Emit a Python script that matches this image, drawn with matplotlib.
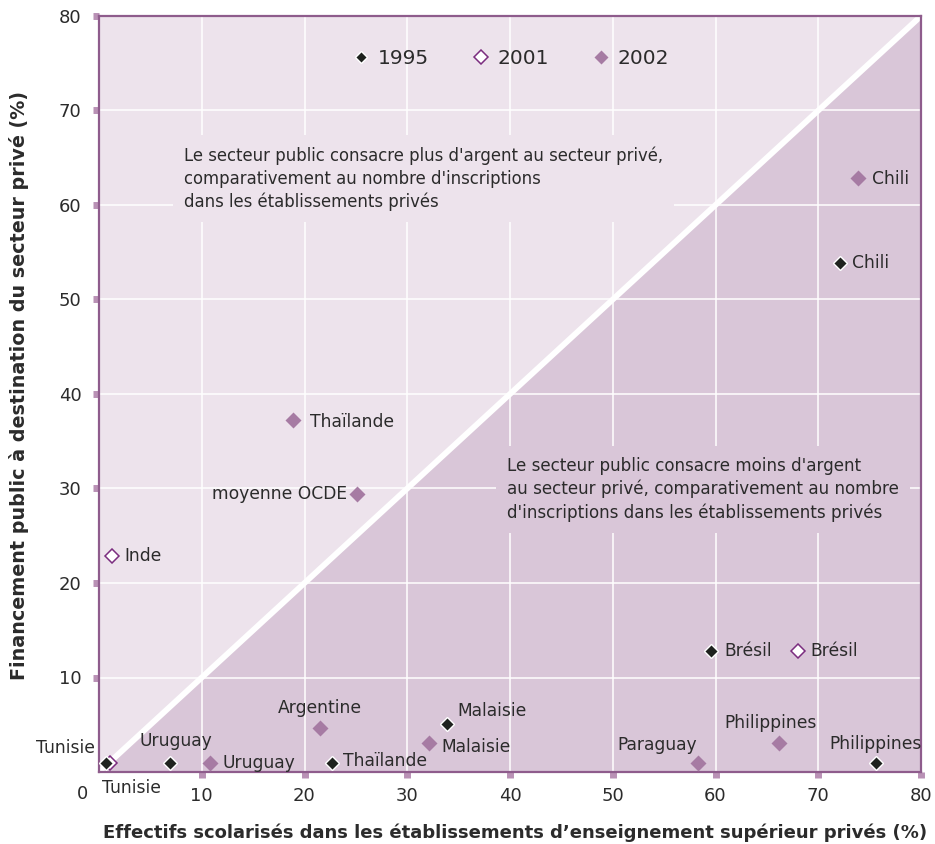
import matplotlib
matplotlib.use("Agg")
import matplotlib.pyplot as plt

plt.rcParams['font.family'] = ['DejaVu Sans']

# ---------------- data ----------------
c1995 = ["Tunisie", "Uruguay", "Thaïlande", "Malaisie", "Brésil", "Chili", "Philippines"]
x1995 = [0.7, 6.9, 22.7, 33.9, 59.6, 72.1, 75.6]
y1995 = [0.95, 0.95, 0.95, 5.1, 12.8, 53.9, 0.95]

c2001 = ["Tunisie", "Inde", "Brésil"]
x2001 = [1.1, 1.3, 68.0]
y2001 = [0.95, 22.9, 12.8]

c2002 = ["Chili", "Thaïlande", "moyenne OCDE", "Argentine", "Uruguay", "Malaisie", "Paraguay", "Philippines"]
x2002 = [73.9, 18.9, 25.1, 21.5, 10.8, 32.1, 58.3, 66.2]
y2002 = [62.9, 37.2, 29.4, 4.7, 0.95, 3.1, 0.95, 3.1]

ticks = [10, 20, 30, 40, 50, 60, 70, 80]
series_names = ["1995", "2001", "2002"]

xlabel = "Effectifs scolarisés dans les établissements d’enseignement supérieur privés (%)"
ylabel = "Financement public à destination du secteur privé (%)"
note_up = ("Le secteur public consacre plus d'argent au secteur privé,\n"
           "comparativement au nombre d'inscriptions\n"
           "dans les établissements privés")
note_down = ("Le secteur public consacre moins d'argent\n"
             "au secteur privé, comparativement au nombre\n"
             "d'inscriptions dans les établissements privés")

# label placement (offset in points, horizontal alignment)
lab1995 = {"Tunisie": (-8, 11, "right"), "Uruguay": (4, 16, "center"),
           "Thaïlande": (8, 1.5, "left"), "Malaisie": (7, 9, "left"),
           "Brésil": (9, 0, "left"), "Chili": (9, 0, "left"),
           "Philippines": (0, 14, "center")}
lab2001 = {"Tunisie": (-6, -18, "left"), "Inde": (9, 0, "left"), "Brésil": (9, 0, "left")}
lab2002 = {"Chili": (10, -1, "left"), "Thaïlande": (12, -1, "left"),
           "moyenne OCDE": (-7, 0, "right"), "Argentine": (0, 14, "center"),
           "Uruguay": (9, 0, "left"), "Malaisie": (9, -3, "left"),
           "Paraguay": (-1, 13, "right"), "Philippines": (-6, 14, "center")}

# ---------------- style ----------------
LIGHT = "#ede3ec"
DARK = "#d9c6d8"
SPINE = "#8e5c8c"
TICKC = "#b991b5"
TXT = "#2b2b2b"
BLACK = "#1e221e"
MAUVE = "#a67ba3"
PURPLE = "#7b2d7f"

W, H = 935, 844
fig = plt.figure(figsize=(W / 100, H / 100), dpi=100)
ax = fig.add_axes([99/W, 1-772/H, 822/W, 756/H])
ax.set_facecolor(LIGHT)
ax.set_xlim(0, 80)
ax.set_ylim(0, 80)

ax.fill([0, 80, 80], [0, 0, 80], color=DARK, zorder=0.2, lw=0)
ax.set_axisbelow(True)
ax.grid(True, color="white", lw=1.1)
ax.plot([0, 80], [0, 80], color="white", lw=4.2, zorder=2, solid_capstyle="butt")

for s in ax.spines.values():
    s.set_color(SPINE)
    s.set_linewidth(1.6)

ax.set_xticks(ticks)
ax.set_yticks(ticks)
ax.tick_params(axis="both", length=4.5, width=5, color=TICKC, direction="out",
               labelsize=13, labelcolor=TXT)
ax.tick_params(axis="x", pad=6)
ax.tick_params(axis="y", pad=8)
ax.text(-1.65, -2.3, "0", fontsize=13, color=TXT, ha="center", va="center", clip_on=False)

fig.text(515/W, 1-833/H, xlabel, fontsize=13, fontweight="bold", color=TXT,
         ha="center", va="center")
fig.text(19/W, 1-385/H, ylabel, fontsize=13.8, fontweight="bold", color=TXT,
         ha="center", va="center", rotation=90)

h1 = ax.plot(x1995, y1995, "D", ms=7, mfc=BLACK, mec="white", mew=1, ls="none", zorder=5)[0]
h2 = ax.plot(x2001, y2001, "D", ms=7.5, mfc="white", mec=PURPLE, mew=1.1, ls="none", zorder=4)[0]
h3 = ax.plot(x2002, y2002, "D", ms=8, mfc=MAUVE, mec="none", ls="none", zorder=4)[0]


def put_labels(names, xs, ys, offs):
    for n, x, y in zip(names, xs, ys):
        dx, dy, ha = offs[n]
        ax.annotate(n, (x, y), xytext=(dx, dy), textcoords="offset points",
                    ha=ha, va="center", fontsize=12.3, color=TXT, zorder=3,
                    annotation_clip=False)


put_labels(c1995, x1995, y1995, lab1995)
put_labels(c2001, x2001, y2001, lab2001)
put_labels(c2002, x2002, y2002, lab2002)

ax.text(8.3, 66.2, note_up, fontsize=11.9, color=TXT, ha="left", va="top", linespacing=1.34,
        zorder=3, bbox=dict(facecolor=LIGHT, edgecolor="none", pad=8))
ax.text(39.7, 33.3, note_down, fontsize=12.1, color=TXT, ha="left", va="top", linespacing=1.32,
        zorder=3, bbox=dict(facecolor=DARK, edgecolor="none", pad=8))

leg = ax.legend([h1, h2, h3], series_names, ncol=3, loc="center",
                bbox_to_anchor=(0.500, 0.944), frameon=False, fontsize=14.5,
                handletextpad=0.3, columnspacing=2.1, handlelength=1.0, markerscale=0.9)
for t in leg.get_texts():
    t.set_color(TXT)

fig.savefig("out.png", dpi=100)
